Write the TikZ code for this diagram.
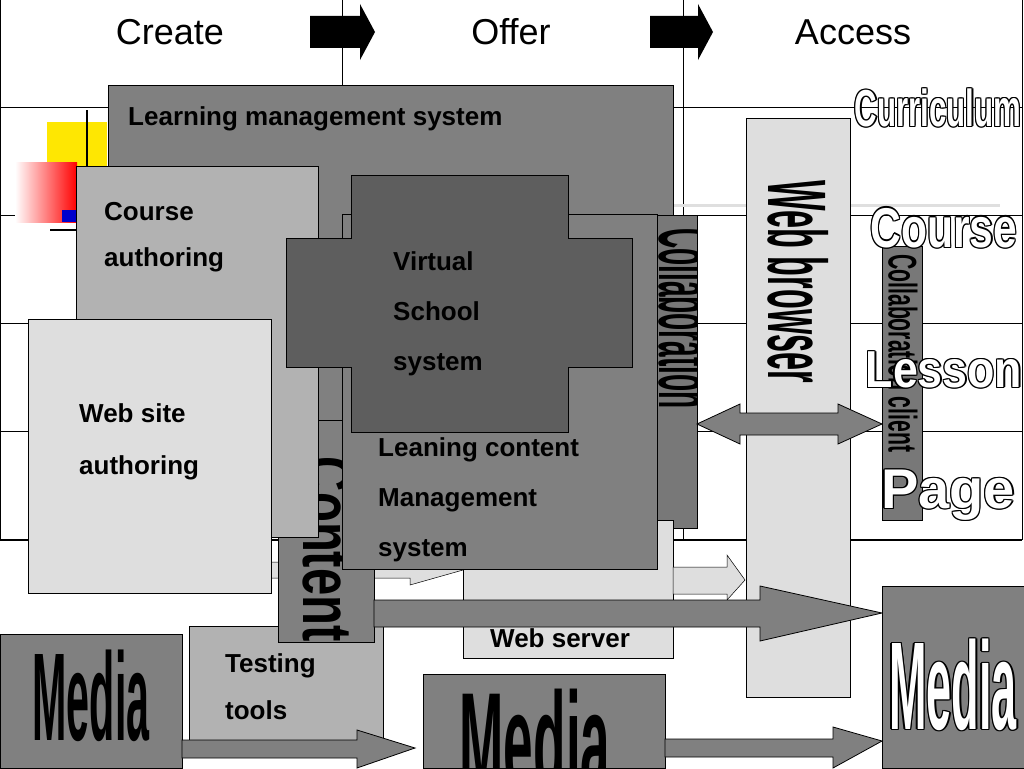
\documentclass[tikz,border=0pt]{standalone}
\usepackage{fontspec}
\usepackage{graphicx}
\setmainfont{Liberation Sans}
\usetikzlibrary{shapes.arrows}
\definecolor{gA}{gray}{0.5}
\definecolor{gB}{gray}{0.70}
\definecolor{gC}{gray}{0.87}
\definecolor{gD}{gray}{0.37}
\definecolor{gE}{gray}{0.47}
\tikzset{
 box/.style={draw=black,line width=0.8pt},
 lbl/.style={anchor=base west,inner sep=0,font=\fontsize{26}{26}\selectfont\bfseries},
 hdr/.style={inner sep=0,font=\fontsize{36}{36}\selectfont},
 grid/.style={draw=black,line width=0.8pt},
 big/.style={inner sep=0,font=\bfseries},
}
\newcommand\otext[4]{%
 \foreach \dx/\dy in {-1.3/0,1.3/0,0/-1.3,0/1.3,-1/-1,1/1,-1/1,1/-1}{\node[#3,text=black] at (#1+\dx,#2+\dy) {#4};}
 \node[#3,text=white] at (#1,#2) {#4};}
\begin{document}
\begin{tikzpicture}[x=1pt,y=-1pt]
\useasboundingbox (0,0) rectangle (1024,768);
\fill[white] (0,0) rectangle (1024,768);
\clip (0,0) rectangle (1024,768);
% table
\foreach \yy in {107,215,323,431}{\draw[grid] (0,\yy) -- (1022,\yy);}
\foreach \xx in {0.5,342,683,1022}{\draw[grid] (\xx,0) -- (\xx,540);}
\draw[black,line width=2pt] (0,540) -- (1022,540);
\draw[gray!25,line width=3pt] (640,205) -- (1000,205);
% header
\node[hdr] (cr) at (170,32) {Create};
\node[hdr] (of) at (511,32) {Offer};
\node[hdr] (ac) at (853,32) {Access};
\fill[black] (310,16) -- (360,16) -- (360,4) -- (375,32) -- (360,60) -- (360,48) -- (310,48) -- cycle;
\fill[black] (650,16) -- (698,16) -- (698,4) -- (713,32) -- (698,60) -- (698,48) -- (650,48) -- cycle;
% decoration
\fill[yellow!90!orange] (47,122) rectangle (107,180);
\shade[left color=white,right color=red] (15,162) rectangle (77,222);
\fill[blue!80!black] (62,210) rectangle (76,222);
\draw[black,line width=1.5pt] (87,110) -- (87,232);
\draw[black,line width=1.5pt] (50,230) -- (110,230);
% LMS
\filldraw[box,fill=gA] (108,85) rectangle (673,525);
\node[lbl] (lms) at (128,125) {Learning management system};
% Collaboration (server)
\filldraw[box,fill=gE] (656,215) rectangle (697,528);
\begin{scope}
\clip (656,215) rectangle (697,528);
\node[big,rotate=-90,anchor=west,font=\fontsize{80}{80}\selectfont\bfseries] (col) at (688,228) {\scalebox{0.35}[1]{Collaboration}};
\end{scope}
% web server
\filldraw[box,fill=gC] (463,520) rectangle (673,658);
\node[lbl] (ws) at (490,647) {Web server};
% light arrows
\filldraw[box,line width=0.5pt,fill=gC] (673,567) -- (727,567) -- (727,555) -- (745,580) -- (727,600) -- (727,594) -- (673,594) -- cycle;
\filldraw[box,line width=0.5pt,fill=gC] (271,562) -- (410,562) -- (410,550) -- (463,570) -- (410,585) -- (410,578) -- (271,578) -- cycle;
% testing tools
\filldraw[box,fill=gB] (189,626) rectangle (383,740);
\node[lbl] (tt1) at (225,672) {Testing};
\node[lbl] (tt2) at (225,719) {tools};
% content
\filldraw[box,fill=gA] (278,420) rectangle (374,642);
\begin{scope}
\clip (278,420) rectangle (374,642);
\node[big,rotate=-90,anchor=east,font=\fontsize{70}{70}\selectfont\bfseries] (cont) at (328,642) {\scalebox{0.7}[1]{Content}};
\end{scope}
% course authoring
\filldraw[box,fill=gB] (76,166) rectangle (318,537);
\node[lbl] (ca1) at (104,220) {Course};
\node[lbl] (ca2) at (104,266) {authoring};
% LCMS
\filldraw[box,fill=gA] (342,214) rectangle (657,569);
\node[lbl] (lc1) at (378,456) {Leaning content};
\node[lbl] (lc2) at (378,506) {Management};
\node[lbl] (lc3) at (378,556) {system};
% virtual school cross
\filldraw[box,fill=gD] (351,175) -- (568,175) -- (568,238) -- (632,238) -- (632,367) -- (568,367) -- (568,432) -- (351,432) -- (351,367) -- (286,367) -- (286,238) -- (351,238) -- cycle;
\node[lbl] (vs1) at (393,270) {Virtual};
\node[lbl] (vs2) at (393,320) {School};
\node[lbl] (vs3) at (393,370) {system};
% web site authoring
\filldraw[box,fill=gC] (28,319) rectangle (271,593);
\node[lbl] (wa1) at (79,422) {Web site};
\node[lbl] (wa2) at (79,474) {authoring};
% web browser
\filldraw[box,fill=gC] (746,118) rectangle (850,697);
\node[big,rotate=-90,anchor=west,font=\fontsize{83}{83}\selectfont\bfseries] (wb) at (798,180) {\scalebox{0.39}[1]{Web browser}};
% big arrow
\filldraw[box,fill=gA] (374,600) -- (760,600) -- (760,586) -- (882,613) -- (760,641) -- (760,627) -- (374,627) -- cycle;
% double arrow
\filldraw[box,fill=gA] (697,424) -- (740,404) -- (740,413) -- (838,413) -- (838,404) -- (882,424) -- (838,444) -- (838,435) -- (740,435) -- (740,444) -- cycle;
% collaboration client
\filldraw[box,fill=gE] (882,246) rectangle (922,520);
\node[big,rotate=-90,anchor=west,font=\fontsize{40}{40}\selectfont\bfseries] (cc) at (903,254) {\scalebox{0.53}[1]{Collaboration client}};
% outline labels
\otext{938}{108}{big,font=\fontsize{52}{52}\selectfont\bfseries}{\scalebox{0.6}[1]{Curriculum}}
\otext{944}{228}{big,font=\fontsize{56}{56}\selectfont\bfseries}{\scalebox{0.76}[1]{Course}}
\otext{944}{370}{big,font=\fontsize{52}{52}\selectfont\bfseries}{\scalebox{0.86}[1]{Lesson}}
\otext{948}{495}{big,font=\fontsize{56}{56}\selectfont\bfseries}{\scalebox{1.0}[1]{Page}}
% media boxes
\filldraw[box,fill=gA] (0,634) rectangle (182,768);
\node[big,anchor=base,font=\fontsize{125}{125}\selectfont\bfseries] (m1) at (91,740) {\scalebox{0.33}[1]{Media}};
\filldraw[box,fill=gA] (423,674) rectangle (665,768);
\node[big,anchor=base,font=\fontsize{140}{140}\selectfont\bfseries] (m2) at (535,790) {\scalebox{0.38}[1]{Media}};
\filldraw[box,fill=gA] (882,586) rectangle (1024,768);
\otext{953}{685}{big,font=\fontsize{125}{125}\selectfont\bfseries}{\scalebox{0.36}[1]{Media}}
% bottom arrows
\filldraw[box,fill=gA] (182,740) -- (357,740) -- (357,730) -- (415,748) -- (357,768) -- (357,758) -- (182,758) -- cycle;
\filldraw[box,fill=gA] (665,739) -- (833,739) -- (833,727) -- (882,741) -- (833,768) -- (833,757) -- (665,757) -- cycle;
\end{tikzpicture}
\end{document}
